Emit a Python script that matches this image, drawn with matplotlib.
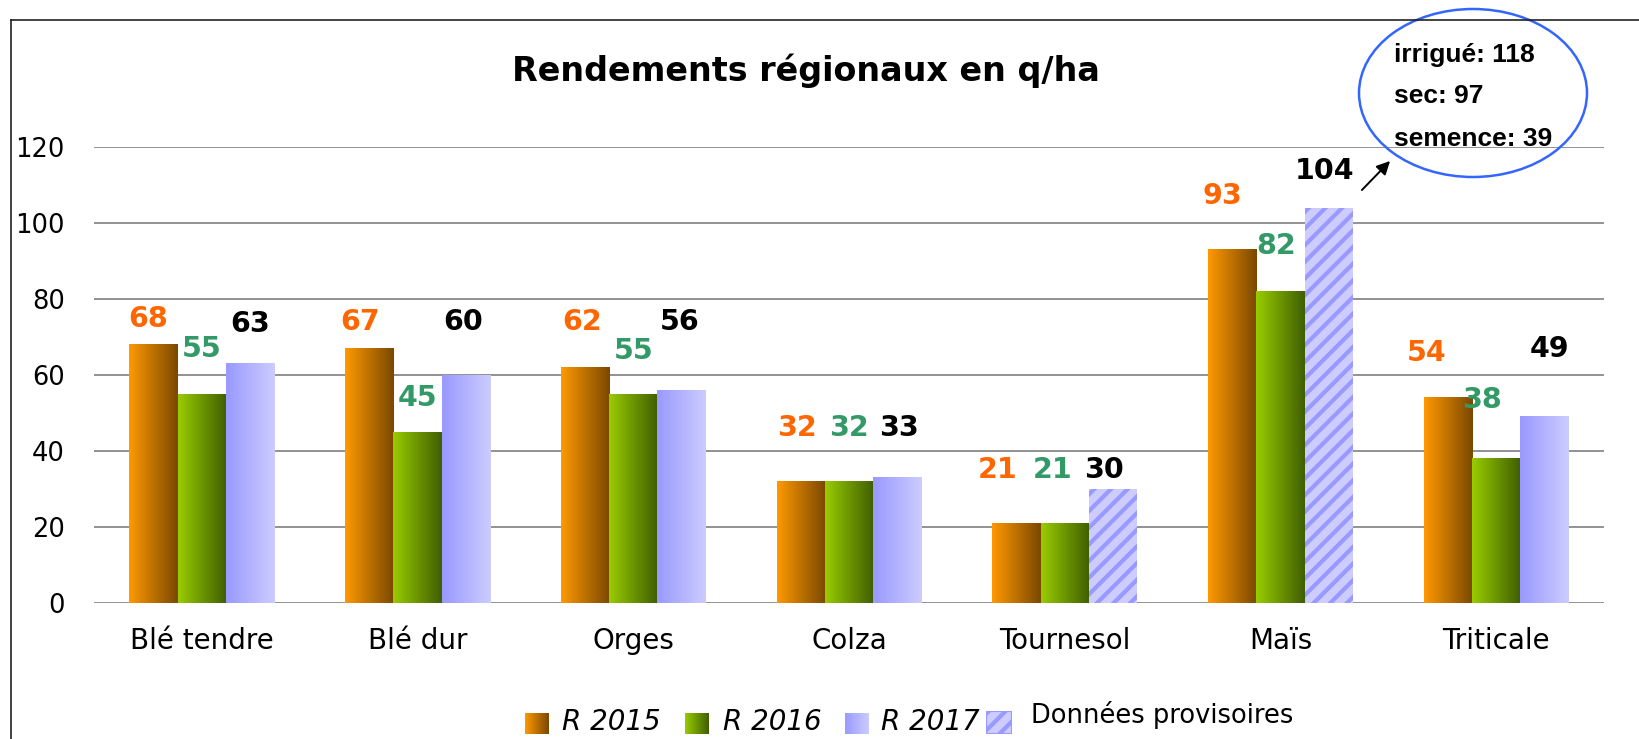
import matplotlib
matplotlib.use("Agg")
import matplotlib.pyplot as plt
import numpy as np
from matplotlib.patches import Ellipse, Rectangle, FancyArrowPatch
from matplotlib.lines import Line2D

# données
cultures = ['Blé tendre', 'Blé dur', 'Orges', 'Colza', 'Tournesol', 'Maïs', 'Triticale']
r2015 = [68, 67, 62, 32, 21, 93, 54]
r2016 = [55, 45, 55, 32, 21, 82, 38]
r2017 = [63, 60, 56, 33, 30, 104, 49]
provisoire_2017 = [False, False, False, False, True, True, False]
series_noms = ['R 2015', 'R 2016', 'R 2017']
mais_detail = ['irrigué: 118', 'sec: 97', 'semence: 39']

# hauteur des étiquettes (en q/ha) et petit décalage horizontal (px)
etiq_y = [[74.9, 74, 74, 46.2, 35, 107.1, 65.8],
          [66.8, 53.9, 66.5, 46.2, 35, 94, 53.5],
          [73.6, 74, 74, 46.2, 35, 113.7, 66.8]]
etiq_dx = [[-5, -9, -3, -4, -19, -10, -21],
           [0, 0, 0, 0, -12, -4, -14],
           [0, -3, -2, 2, -9, -4, 5]]

W, H = 1639, 739
plt.rcParams['font.family'] = ['DejaVu Sans']
plt.rcParams['hatch.linewidth'] = 3.0

degrades = [('#FF9900', '#7A4800'), ('#99CC00', '#3F5E00'), ('#9999FF', '#CCCCFF')]
couleurs_etiq = ['#FF6600', '#339966', '#000000']


def gradient(c1, c2, n=256):
	a = np.array(matplotlib.colors.to_rgb(c1))
	b = np.array(matplotlib.colors.to_rgb(c2))
	t = np.linspace(0, 1, n)[:, None]
	return (a + (b - a) * t)[None, :, :]


def px(x, y):
	# pixels (origine en haut à gauche) -> pouces pour dpi_scale_trans
	return x / 100.0, (H - y) / 100.0


fig = plt.figure(figsize=(W / 100, H / 100), dpi=100)
ax = fig.add_axes([94 / W, (H - 603) / H, (1604 - 94) / W, (603 - 147.4) / H])

x = np.arange(len(cultures))
largeur = 0.224
toutes = [r2015, r2016, r2017]
for i, vals in enumerate(toutes):
	pos = x + (i - 1) * largeur
	bars = ax.bar(pos, vals, largeur, color='none', edgecolor='none', zorder=2)
	for j, b in enumerate(bars):
		x0, w, h = b.get_x(), b.get_width(), b.get_height()
		if i == 2 and provisoire_2017[j]:
			ax.add_patch(Rectangle((x0, 0), w, h, facecolor='#CCCCFF', edgecolor='#9999FF',
								   hatch='//', linewidth=0, zorder=3))
		else:
			ax.imshow(gradient(*degrades[i]), extent=(x0, x0 + w, 0, h), aspect='auto',
					  interpolation='bilinear', zorder=3)
		ax.annotate(str(vals[j]), xy=(pos[j], etiq_y[i][j]), xytext=(etiq_dx[i][j] * 0.72, 0),
					textcoords='offset points', ha='center', va='center',
					fontsize=20.5, fontweight='bold', color=couleurs_etiq[i], zorder=5)

ax.set_xlim(-0.5, len(cultures) - 0.5)
ax.set_ylim(0, 120)
ax.set_yticks(np.arange(0, 121, 20))
ax.set_xticks(x)
ax.set_xticklabels(cultures, fontsize=20)
ax.tick_params(axis='y', length=0, pad=21, labelsize=18.5)
ax.tick_params(axis='x', length=0, pad=17)
ax.yaxis.grid(True, color='#7F7F7F', linewidth=1.2)
ax.set_axisbelow(True)
for s in ax.spines.values():
	s.set_visible(False)

# titre
fig.text(806 / W, (H - 71) / H, 'Rendements régionaux en q/ha',
		 ha='center', va='center', fontsize=24, fontweight='bold')

# cadre
fig.add_artist(Line2D([11 / W, 11 / W], [0, (H - 20) / H], color='#222222', lw=1.2))
fig.add_artist(Line2D([11 / W, 1], [(H - 20) / H, (H - 20) / H], color='#222222', lw=1.2))

# ellipse maïs
fig.add_artist(Ellipse(px(1473, 93), 2.28, 1.68, transform=fig.dpi_scale_trans,
					   facecolor='none', edgecolor='#3366FF', lw=1.8))
for txt, yb in zip(mais_detail, [62, 103, 146]):
	fig.text(*px(1394, yb), txt, transform=fig.dpi_scale_trans, ha='left', va='baseline',
			 fontsize=19, fontweight='bold', family=['Liberation Sans', 'DejaVu Sans'])
fig.add_artist(FancyArrowPatch(px(1360, 192), px(1392, 159), transform=fig.dpi_scale_trans,
							   arrowstyle='-|>', mutation_scale=20, lw=1.4, color='black'))

# légende
swatch_x = [525, 685, 845]
texte_x = [562, 723, 881]
for i in range(3):
	lax = fig.add_axes([swatch_x[i] / W, (H - 734) / H, 24 / W, 21 / H])
	lax.imshow(gradient(*degrades[i]), extent=(0, 1, 0, 1), aspect='auto', interpolation='bilinear')
	lax.set_axis_off()
	fig.text(*px(texte_x[i], 730), series_noms[i], transform=fig.dpi_scale_trans, ha='left',
			 va='baseline', fontsize=20, style='italic')
hax = fig.add_axes([986 / W, (H - 734) / H, 26 / W, 23 / H])
hax.add_patch(Rectangle((0, 0), 1, 1, facecolor='#CCCCFF', edgecolor='#9999FF', hatch='//', lw=1.5))
hax.set_xlim(0, 1)
hax.set_ylim(0, 1)
hax.set_axis_off()
fig.text(*px(1031, 723), 'Données provisoires', transform=fig.dpi_scale_trans, ha='left',
		 va='baseline', fontsize=18.5)

fig.savefig('out.png', dpi=100)
